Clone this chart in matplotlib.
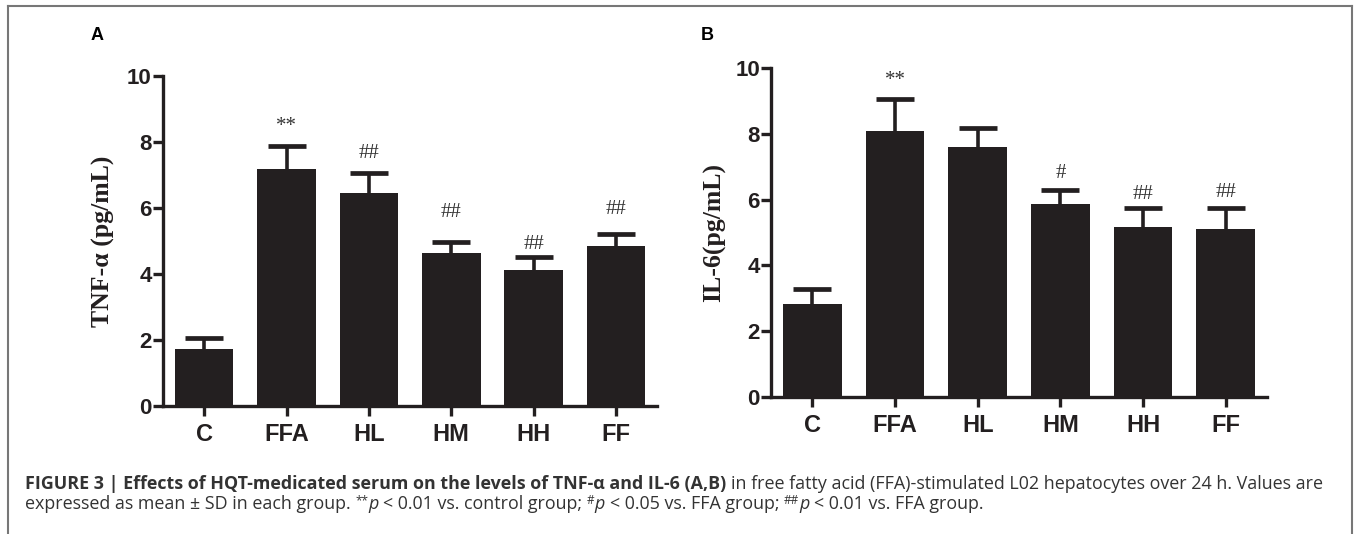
import matplotlib
matplotlib.use("Agg")
import matplotlib.pyplot as plt
from matplotlib.lines import Line2D

# data
groups = ["C", "FFA", "HL", "HM", "HH", "FF"]

tnf_mean = [1.72, 7.17, 6.44, 4.65, 4.12, 4.85]
tnf_sd = [0.33, 0.72, 0.61, 0.33, 0.41, 0.35]
tnf_sig = ["", "**", "##", "##", "##", "##"]
tnf_sig_y = [0, 8.48, 7.66, 5.86, 4.88, 5.94]

il6_mean = [2.82, 8.09, 7.59, 5.87, 5.16, 5.11]
il6_sd = [0.45, 0.98, 0.60, 0.42, 0.58, 0.63]
il6_sig = ["", "**", "", "#", "##", "##"]
il6_sig_y = [0, 9.61, 0, 6.80, 6.14, 6.21]

tick_font = ["Liberation Sans", "DejaVu Sans"]
serif_font = ["Liberation Serif", "DejaVu Serif"]
sans_font = ["Liberation Sans", "DejaVu Sans"]
cap_font = ["Open Sans", "DejaVu Sans"]

bar_color = "#231f20"

fig = plt.figure(figsize=(13.57, 5.34), dpi=100)


def draw_panel(rect, means, sds, sig, sig_y, ylabel, letter, letter_xy, label_x):
    ax = fig.add_axes(rect)
    x = list(range(len(groups)))
    tops = [m + s for m, s in zip(means, sds)]
    ax.bar(x, means, width=0.71, color=bar_color, zorder=2)
    # upper error bars only
    ax.vlines(x, means, tops, color=bar_color, lw=2.6, zorder=1)
    ax.plot(x, tops, ls="none", marker="_", markersize=28, mew=3.4,
            color=bar_color, zorder=1)
    for xi, s, yy in zip(x, sig, sig_y):
        if s:
            ax.text(xi, yy, s, ha="center", va="center", fontsize=15,
                    family=serif_font, color="#333333")
    ax.set_xlim(-0.5, 5.5)
    ax.set_ylim(0, 10)
    ax.set_yticks([0, 2, 4, 6, 8, 10])
    ax.set_xticks(x)
    ax.set_xticklabels(groups, fontsize=17, fontweight="bold", family=tick_font)
    for lab in ax.get_yticklabels():
        lab.set_fontsize(16)
        lab.set_fontweight("bold")
        lab.set_family(tick_font)
    for s in ["top", "right"]:
        ax.spines[s].set_visible(False)
    for s in ["left", "bottom"]:
        ax.spines[s].set_linewidth(2.4)
        ax.spines[s].set_color(bar_color)
    ax.tick_params(width=2.4, length=7, color=bar_color, labelcolor=bar_color)
    ax.tick_params(axis="y", pad=1)
    ax.tick_params(axis="x", pad=5)
    fig.text(label_x, rect[1] + rect[3] / 2, ylabel, rotation=90, ha="center", va="center",
             fontsize=18.5, fontweight="bold", family=serif_font, color=bar_color)
    fig.text(letter_xy[0], letter_xy[1], letter, fontsize=13, fontweight="bold",
             family=sans_font, ha="center", va="center")
    return ax


draw_panel([0.1201, 0.2397, 0.3642, 0.618], tnf_mean, tnf_sd, tnf_sig, tnf_sig_y,
           "TNF-\u03b1 (pg/mL)", "A", (97 / 1357, 1 - 35 / 534), 103 / 1357)
draw_panel([0.5682, 0.2566, 0.3655, 0.6161], il6_mean, il6_sd, il6_sig, il6_sig_y,
           "IL-6(pg/mL)", "B", (707 / 1357, 1 - 35 / 534), 715 / 1357)

# frame around the figure
fc = "#777777"
x_l, x_r, y_t = 8 / 1357, 1352 / 1357, 1 - 6 / 534
fig.add_artist(Line2D([x_l, x_r], [y_t, y_t], color=fc, lw=1.5, transform=fig.transFigure))
fig.add_artist(Line2D([x_l, x_l], [0, y_t], color=fc, lw=1.5, transform=fig.transFigure))
fig.add_artist(Line2D([x_r, x_r], [0, y_t], color=fc, lw=1.5, transform=fig.transFigure))

# caption, drawn piece by piece
renderer = fig.canvas.get_renderer()


def text_w(s, kw):
    t = fig.text(0, 0, s, **kw)
    w = t.get_window_extent(renderer).width
    t.remove()
    return w


def put_runs(x0, y, runs):
    x = x0 * fig.bbox.width
    for txt, kw in runs:
        kw = dict(kw)
        dy = kw.pop("dy", 0)
        sp = text_w("x x", kw) - text_w("xx", kw)
        lead = len(txt) - len(txt.lstrip(" "))
        trail = len(txt) - len(txt.rstrip(" "))
        core = txt.strip(" ")
        x += lead * sp
        if core:
            t = fig.text(x / fig.bbox.width, y + dy / fig.bbox.height, core,
                         va="baseline", **kw)
            x += t.get_window_extent(renderer).width
        x += trail * sp


cap = dict(fontsize=12.9, family=cap_font, color="#333333")
capb = dict(cap, fontweight="bold")
capi = dict(cap, style="italic")
sup = dict(cap, fontsize=8.5, dy=5)

put_runs(25 / 1357, 1 - 489 / 534, [
    ("FIGURE 3 | Effects of HQT-medicated serum on the levels of TNF-\u03b1 and IL-6 (A,B) ", capb),
    ("in free fatty acid (FFA)-stimulated L02 hepatocytes over 24 h. Values are", cap),
])
put_runs(25 / 1357, 1 - 509 / 534, [
    ("expressed as mean \u00b1 SD in each group. ", cap),
    ("**", sup),
    ("p", capi),
    (" < 0.01 vs. control group; ", cap),
    ("#", sup),
    ("p", capi),
    (" < 0.05 vs. FFA group; ", cap),
    ("##", sup),
    ("p", capi),
    (" < 0.01 vs. FFA group.", cap),
])

fig.savefig("out.png", dpi=100)
